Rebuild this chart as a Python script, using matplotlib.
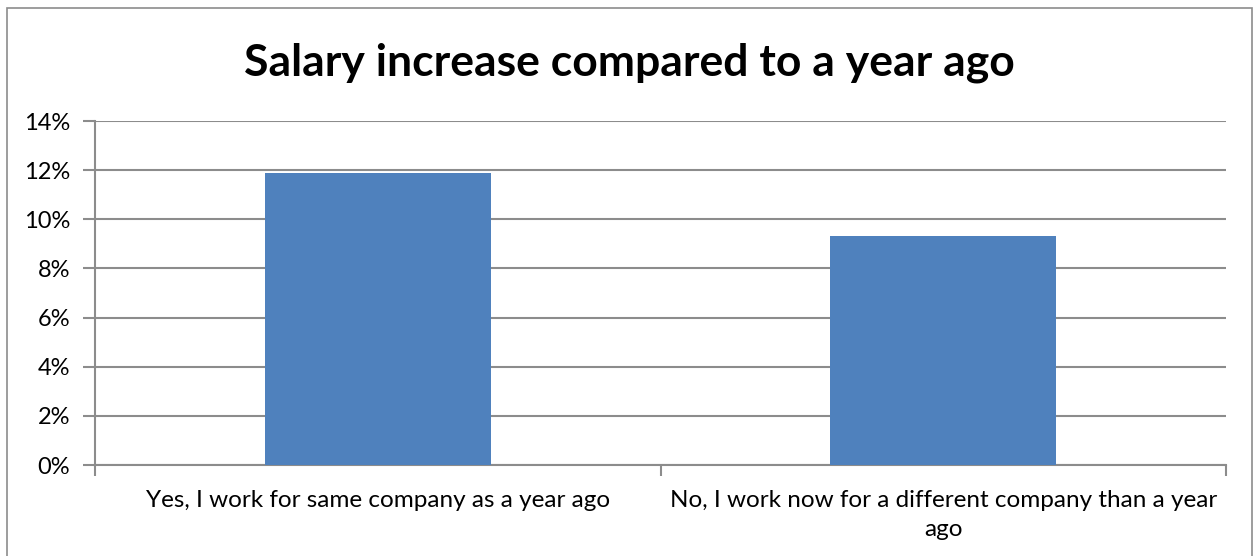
import numpy as np
import matplotlib.pyplot as plt
from matplotlib.patches import Rectangle
from matplotlib.ticker import FixedLocator, PercentFormatter

categories = ["Yes, I work for same company as a year ago",
              "No, I work now for a different company than a year\nago"]
increase = [11.9, 9.3]  # percent
yticks = [0, 2, 4, 6, 8, 10, 12, 14]

plt.rcParams['font.family'] = ['Lato', 'DejaVu Sans']
grid_c = "#8c8c8c"

fig = plt.figure(figsize=(12.58, 5.56), dpi=100)
ax = fig.add_axes([95 / 1258, 1 - 465 / 556, 1131 / 1258, 344 / 556])

x = np.arange(len(categories))
ax.bar(x, increase, width=0.4, color="#4f81bd", zorder=3)

ax.set_xlim(-0.5, len(categories) - 0.5)
ax.set_ylim(0, 14)
ax.set_yticks(yticks)
ax.yaxis.set_major_formatter(PercentFormatter(decimals=0))
ax.yaxis.grid(True, color=grid_c, linewidth=1.5, zorder=0)

ax.xaxis.set_major_locator(FixedLocator(x))
ax.set_xticklabels(categories, fontsize=17.5, linespacing=1.45)
ax.xaxis.set_minor_locator(FixedLocator([-0.5, 0.5, 1.5]))
ax.tick_params(axis="x", which="major", length=0, pad=18)
ax.tick_params(axis="x", which="minor", length=8, width=1.5, color=grid_c)
ax.tick_params(axis="y", length=9, width=1.5, color=grid_c, labelsize=17, pad=9)

for s in ["top", "right"]:
    ax.spines[s].set_visible(False)
for s in ["left", "bottom"]:
    ax.spines[s].set_color(grid_c)
    ax.spines[s].set_linewidth(1.5)

fig.text(0.5, 1 - 63 / 556, "Salary increase compared to a year ago",
         ha="center", va="center", fontsize=32, fontweight="bold")

# chart area border
fig.patches.append(Rectangle((7 / 1258, -0.05), 1245 / 1258, 1.05 - 8 / 556,
                             transform=fig.transFigure, fill=False,
                             edgecolor="#8c8c8c", linewidth=1.2))

fig.savefig("out.png", dpi=100)
